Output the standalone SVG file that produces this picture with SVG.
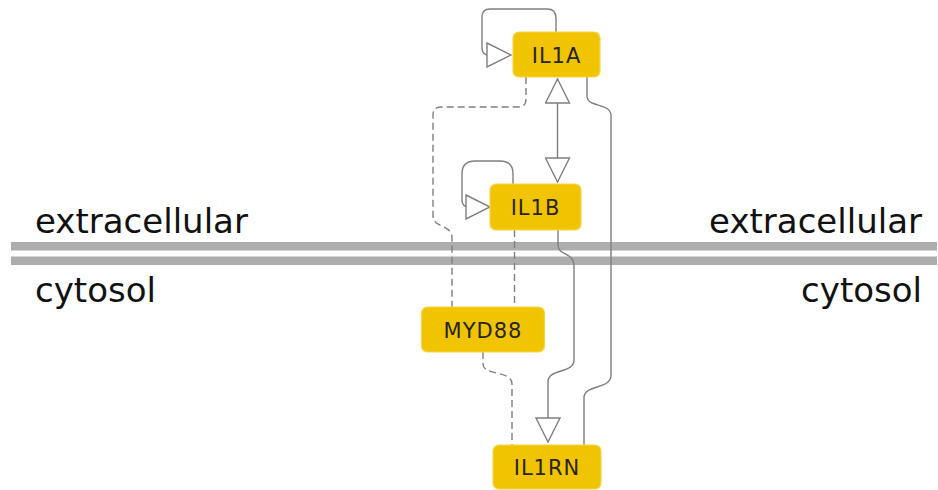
<svg xmlns="http://www.w3.org/2000/svg" width="938" height="490" viewBox="0 0 938 490">
  <defs>
    <style>
      .membrane { fill: #adadad; }
      .label { font-family: "DejaVu Sans", sans-serif; font-size: 34px; fill: #111; }
      .node rect { fill: #f0c400; stroke: #f6d64a; stroke-width: 1.2; }
      .node text { font-family: "DejaVu Sans", sans-serif; font-size: 21px; letter-spacing: 1px; fill: #2a2418; text-anchor: middle; }
      .edge { fill: none; stroke: #7f7f7f; stroke-width: 1.4; }
      .dashed { stroke-dasharray: 7 4; }
    </style>
    <marker id="tri" viewBox="0 0 26 26" refX="25" refY="13" markerWidth="26" markerHeight="26" markerUnits="userSpaceOnUse" orient="auto-start-reverse">
      <path d="M1,1 L25,13 L1,25 Z" fill="#ffffff" stroke="#7f7f7f" stroke-width="1.4"/>
    </marker>
  </defs>
  <rect width="938" height="490" fill="#ffffff"/>

  <g id="membrane">
    <rect class="membrane" x="11" y="242" width="926" height="8.5"/>
    <rect class="membrane" x="11" y="256.5" width="926" height="8.5"/>
    <text class="label" x="35" y="233">extracellular</text>
    <text class="label" x="35" y="302">cytosol</text>
    <text class="label" x="922" y="233" text-anchor="end">extracellular</text>
    <text class="label" x="922" y="302" text-anchor="end">cytosol</text>
  </g>

  <g id="connectors">
    <path class="edge" d="M 556 32 L 556 18 Q 556 9 547 9 L 490 9 Q 482 9 482 17 L 482 48 Q 482 55 489 55 L 511 55" marker-end="url(#tri)"/>
    <path class="edge" d="M 557.5 79 L 557.5 182" marker-start="url(#tri)" marker-end="url(#tri)"/>
    <path class="edge" d="M 513 184 L 513 174 Q 513 161 500 161 L 475 161 Q 462 161 462 174 L 462 200 Q 462 207 469 207 L 490 207" marker-end="url(#tri)"/>
    <path class="edge dashed" d="M 526 77 L 526 99 Q 526 107 518 107 L 441 107 Q 433 107 433 115 L 433 216 C 433 228, 452 224, 452 238 L 452 307"/>
    <path class="edge dashed" d="M 514.5 230 L 514.5 307"/>
    <path class="edge dashed" d="M 483 352 L 483 364 C 483 376, 512 370, 512 384 L 512 445"/>
    <path class="edge" d="M 558 230 L 558 245 C 558 256, 574 252, 574 266 L 574 360 C 574 374, 548 368, 548 382 L 548 442" marker-end="url(#tri)"/>
    <path class="edge" d="M 587 77 L 587 96 C 587 108, 611 102, 611 116 L 611 375 C 611 390, 584 384, 584 398 L 584 445"/>
  </g>

  <g id="IL1A" class="node">
    <rect x="513" y="32" width="87" height="45" rx="6"/>
    <text x="556.5" y="62.5">IL1A</text>
  </g>
  <g id="IL1B" class="node">
    <rect x="490" y="184" width="91" height="46" rx="6"/>
    <text x="535.5" y="214.5">IL1B</text>
  </g>
  <g id="MYD88" class="node">
    <rect x="421.5" y="307" width="123" height="45" rx="6"/>
    <text x="483" y="337.5">MYD88</text>
  </g>
  <g id="IL1RN" class="node">
    <rect x="493" y="445" width="108" height="44" rx="6"/>
    <text x="547" y="475">IL1RN</text>
  </g>
</svg>
